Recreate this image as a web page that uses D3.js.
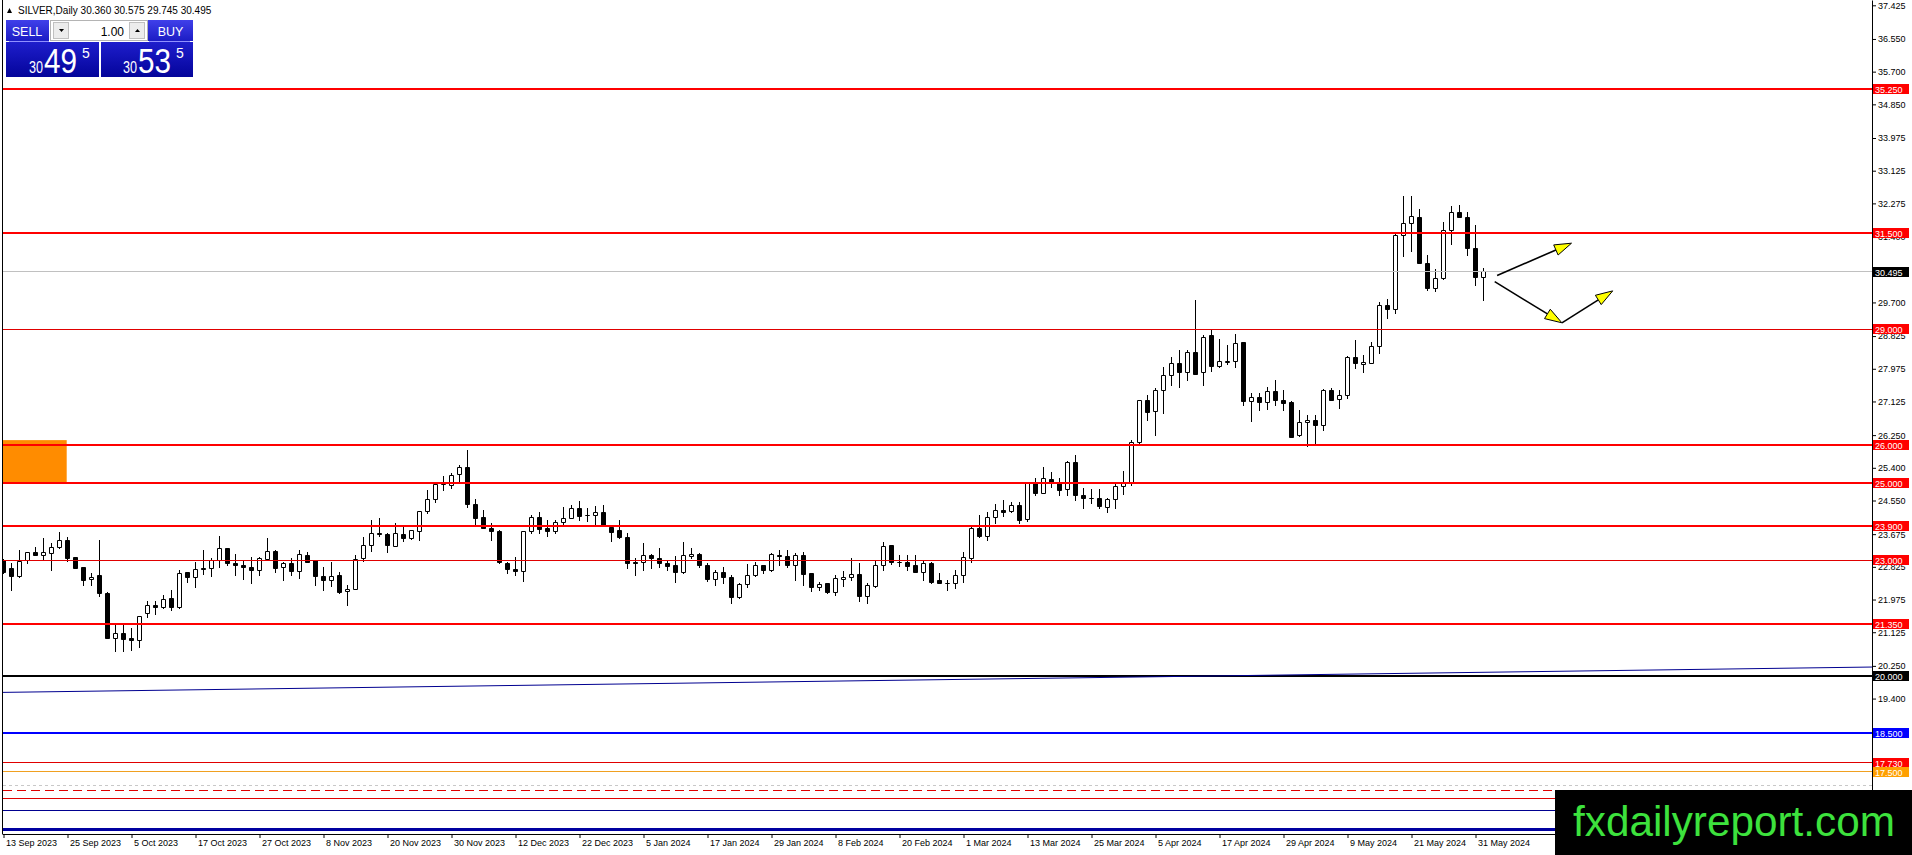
<!DOCTYPE html>
<html>
<head>
<meta charset="utf-8">
<script src="https://cdn.jsdelivr.net/npm/d3@7"></script>
<style>
    html, body { margin: 0; padding: 0; background: #fff; overflow: hidden; }
    svg { display: block; }
    text { font-family: "Liberation Sans", Arial, sans-serif; }
</style>
</head>
<body>
<div id="chart"></div>
<script>
/*
SILVER daily candles with support / resistance levels
 */

//candle data, one entry per daily bar (13 Sep 2023 .. 3 Jun 2024):
var opens = [22.99,22.77,22.57,23.00,23.21,23.12,23.17,23.33,23.50,23.07,22.80,22.50,22.59,22.14,20.96,21.10,20.95,20.91,21.62,21.82,
    21.77,21.99,21.76,22.68,22.55,22.79,22.79,23.00,23.30,22.92,22.86,22.82,22.73,23.01,23.23,22.80,22.90,22.71,23.12,22.98,
    22.58,22.47,22.59,22.18,22.24,23.04,23.38,23.70,23.67,23.36,23.67,23.56,23.75,24.27,24.58,24.96,24.94,25.23,25.41,24.45,
    24.11,23.83,23.75,22.92,22.76,22.71,23.75,24.11,23.81,23.75,23.98,24.09,24.35,24.16,24.16,24.23,23.85,23.76,23.60,22.95,
    22.94,23.12,23.04,22.92,22.85,22.67,23.09,23.15,22.87,22.50,22.68,22.55,22.03,22.37,22.60,22.85,22.72,23.13,23.10,22.86,
    23.12,22.66,22.29,22.38,22.15,22.50,22.55,22.63,22.05,22.31,22.87,23.37,22.93,22.94,22.85,22.67,22.92,22.47,22.39,22.39,
    22.60,23.05,23.83,23.61,24.10,24.28,24.26,24.42,24.06,24.98,24.74,25.10,25.00,24.84,25.53,24.69,24.61,24.61,24.37,24.58,
    24.91,25.00,26.05,27.14,26.86,27.41,27.81,28.11,27.88,28.39,27.88,28.83,28.03,28.14,28.16,28.65,27.12,27.23,27.09,27.39,
    27.16,27.09,26.23,26.58,26.62,26.50,27.40,27.18,27.27,28.27,28.09,28.12,28.56,29.61,29.52,31.45,31.76,31.91,30.72,30.06,
    30.31,31.57,32.04,31.91,31.11,30.360];
var highs = [23.02,22.92,23.24,23.21,23.34,23.55,23.42,23.73,23.58,23.08,22.80,22.66,23.50,22.15,21.31,21.31,21.23,21.54,21.93,21.92,
    22.09,22.20,22.74,22.69,22.94,23.25,23.04,23.62,23.31,23.15,23.00,23.07,23.07,23.55,23.25,22.94,23.05,23.24,23.20,22.99,
    22.80,22.94,22.69,22.33,23.13,23.58,24.02,24.09,23.68,23.96,23.87,23.76,24.27,24.81,24.98,25.17,25.26,25.47,25.84,24.58,
    24.30,23.96,23.78,22.95,23.07,23.75,24.16,24.23,24.02,24.04,24.38,24.43,24.53,24.35,24.39,24.42,23.91,24.04,23.68,23.05,
    23.44,23.15,23.31,22.99,23.09,23.46,23.29,23.18,22.90,22.73,22.80,22.60,22.40,22.89,22.93,22.87,23.18,23.24,23.26,23.18,
    23.19,22.66,22.42,22.40,22.59,22.70,23.03,22.90,22.40,22.99,23.45,23.39,23.13,23.12,23.11,22.96,22.93,22.66,22.46,22.74,
    23.19,23.85,24.17,24.24,24.45,24.55,24.50,24.49,25.01,25.12,25.40,25.27,25.12,25.57,25.71,24.87,24.84,24.84,24.59,24.97,
    25.31,26.11,27.14,27.27,27.45,28.01,28.27,28.46,28.46,29.74,28.85,28.96,28.74,28.59,28.87,28.65,27.34,27.34,27.49,27.68,
    27.41,27.12,26.90,26.77,26.77,27.44,27.47,27.42,28.29,28.70,28.33,28.66,29.70,29.78,31.50,32.45,32.45,32.12,30.93,30.56,
    31.79,32.19,32.23,32.03,31.71,30.575];
var lows = [22.64,22.22,22.54,22.90,23.11,23.00,22.72,23.30,22.97,22.77,22.35,22.35,22.05,20.95,20.62,20.62,20.65,20.72,21.51,21.59,
    21.75,21.69,21.75,22.41,22.30,22.63,22.57,22.80,22.86,22.60,22.50,22.39,22.60,23.00,22.67,22.48,22.59,22.52,22.95,22.35,
    22.22,22.31,22.12,21.82,22.23,22.97,23.22,23.61,23.19,23.35,23.48,23.54,23.51,24.22,24.50,24.82,24.87,25.04,24.36,23.91,
    23.82,23.52,22.90,22.64,22.61,22.44,23.68,23.68,23.61,23.68,23.91,24.07,24.03,24.00,23.91,23.89,23.48,23.55,22.78,22.61,
    22.73,22.77,22.82,22.73,22.41,22.66,23.04,22.81,22.44,22.35,22.38,21.88,21.99,22.28,22.57,22.64,22.70,22.87,22.81,22.47,
    22.33,22.18,22.21,22.12,22.08,22.31,22.47,21.92,21.86,22.29,22.73,22.89,22.83,22.74,22.67,22.48,22.40,22.38,22.21,22.25,
    22.43,22.93,23.58,23.51,23.94,24.13,24.24,23.96,24.00,24.67,24.73,24.88,24.68,24.67,24.56,24.33,24.48,24.35,24.25,24.34,
    24.70,24.95,26.04,26.63,26.23,26.80,27.55,27.49,27.68,27.82,27.54,27.90,28.01,28.09,28.00,27.03,26.60,26.90,26.92,27.02,
    26.89,26.18,26.21,25.95,26.04,26.37,27.14,26.93,27.21,27.97,27.89,28.10,28.36,29.28,29.40,30.89,31.02,30.71,30.01,29.98,
    30.30,31.21,31.91,30.93,30.13,29.745];
var closes = [22.67,22.57,22.97,23.20,23.12,23.19,23.34,23.50,23.04,22.78,22.47,22.56,22.14,20.96,21.10,20.93,20.91,21.54,21.82,21.77,
    21.98,21.77,22.66,22.54,22.76,22.75,23.00,23.30,22.92,22.86,22.80,22.73,23.05,23.23,22.78,22.90,22.70,23.15,22.95,22.57,
    22.47,22.58,22.17,22.24,23.01,23.38,23.70,23.66,23.38,23.69,23.55,23.76,24.27,24.58,24.97,24.99,25.21,25.41,24.45,24.08,
    23.83,23.74,22.93,22.76,22.71,23.75,24.11,23.80,23.74,23.98,24.09,24.35,24.13,24.17,24.23,23.91,23.71,23.58,22.91,22.92,
    23.12,23.04,22.91,22.83,22.67,23.12,23.15,22.85,22.50,22.68,22.55,22.03,22.37,22.60,22.86,22.72,23.15,23.09,22.86,23.12,
    22.63,22.28,22.37,22.15,22.52,22.55,22.63,22.05,22.33,22.87,23.35,22.93,22.95,22.83,22.67,22.90,22.43,22.39,22.40,22.60,
    23.07,23.83,23.61,24.10,24.28,24.24,24.41,24.04,24.98,24.72,25.13,24.98,24.82,25.53,24.68,24.61,24.59,24.39,24.58,24.91,
    25.00,26.05,27.14,26.84,27.42,27.81,28.11,27.88,28.39,27.83,28.80,28.03,28.17,28.17,28.62,27.12,27.23,27.09,27.39,27.15,
    27.08,26.20,26.58,26.64,26.50,27.40,27.16,27.29,28.27,28.12,28.15,28.56,29.61,29.52,31.45,31.76,31.93,30.72,30.06,30.31,
    31.57,32.05,31.91,31.11,30.36,30.495];

//time axis labels and the bar each one belongs to:
var dateLabels = ["13 Sep 2023", "25 Sep 2023", "5 Oct 2023", "17 Oct 2023", "27 Oct 2023", "8 Nov 2023", "20 Nov 2023",
    "30 Nov 2023", "12 Dec 2023", "22 Dec 2023", "5 Jan 2024", "17 Jan 2024", "29 Jan 2024", "8 Feb 2024", "20 Feb 2024",
    "1 Mar 2024", "13 Mar 2024", "25 Mar 2024", "5 Apr 2024", "17 Apr 2024", "29 Apr 2024", "9 May 2024", "21 May 2024",
    "31 May 2024"];
var dateLabelBars = [0, 8, 16, 24, 32, 40, 48, 56, 64, 72, 80, 88, 96, 104, 112, 120, 128, 136, 144, 152, 160, 168, 176, 184];

//price axis labels:
var priceTicks = ["37.425", "36.550", "35.700", "34.850", "33.975", "33.125", "32.275", "31.400", "30.550", "29.700",
    "28.825", "27.975", "27.125", "26.250", "25.400", "24.550", "23.675", "22.825", "21.975", "21.125", "20.250",
    "19.400", "18.550", "17.675", "16.825"];

//horizontal levels:
var redThickLevels = [35.25, 31.5, 26.0, 25.0, 23.9, 21.35];
var redThinLevels = [29.0, 23.0, 17.73, 16.8];
var bidLevel = [30.495];
var blackLevels = [20.0];
var blueLevels = [18.5];
var orangeLevels = [17.5];
var grayDotLevels = [17.15];
var redDashLevels = [17.0];
var navyThinLevels = [16.5];
var navyThickLevels = [16.0];

//levels that carry a price tag on the axis:
var redTags = [35.25, 31.5, 29.0, 26.0, 25.0, 23.9, 23.0, 21.35, 17.73];
var blackTags = [30.495, 20.0];
var blueTags = [18.5];
var orangeTags = [17.5];

//drawn objects (bar index, price):
var trendBars = [-0.44, 233.56];
var trendPrices = [19.56, 20.22];
var zoneBars = [-0.44, 7.9];
var zonePrices = [25.0, 26.12];
var arrowBarsFrom = [186.7, 186.4, 194.8];
var arrowBarsTo = [196.0, 194.8, 201.15];
var arrowPricesFrom = [30.40, 30.24, 29.17];
var arrowPricesTo = [31.24, 29.17, 30.00];

//quote panel:
var symbolName = "SILVER,Daily";
var lotSize = "1.00";
var sellQuote = ["30", "49", "5"];
var buyQuote = ["30", "53", "5"];


var width = 1912;
var height = 855;
var axisX = 1872;
var axisY = 834;

var svg = d3.select("#chart")
    .append("svg")
    .attr("width", width)
    .attr("height", height);

svg.append("rect").attr("width", width).attr("height", height).attr("fill", "#fff");

var defs = svg.append("defs");
defs.append("clipPath").attr("id", "plotClip")
    .append("rect").attr("x", 3).attr("y", 0).attr("width", axisX - 3).attr("height", axisY);

//scales: 8px per bar
var xScale = d3.scaleLinear().domain([-0.4375, 233.5625]).range([0, axisX]);
var yScale = d3.scaleLinear().domain([15.879, 37.563]).range([axisY, 0]);

var plot = svg.append("g").attr("clip-path", "url(#plotClip)");

//orange zone
plot.append("rect")
    .attr("x", xScale(zoneBars[0]))
    .attr("y", yScale(zonePrices[1]))
    .attr("width", xScale(zoneBars[1]) - xScale(zoneBars[0]))
    .attr("height", yScale(zonePrices[0]) - yScale(zonePrices[1]))
    .attr("fill", "#ff8c00");

//candles
var bars = d3.range(opens.length);
function crisp(v) {
    return Math.round(v - 0.5) + 0.5;
}

plot.append("g").selectAll("line")
    .data(bars)
    .join("line")
    .attr("x1", function (i) { return xScale(i); })
    .attr("x2", function (i) { return xScale(i); })
    .attr("y1", function (i) { return crisp(yScale(highs[i])) - 0.5; })
    .attr("y2", function (i) { return crisp(yScale(lows[i])) + 0.5; })
    .attr("stroke", "#000")
    .attr("stroke-width", 1);

plot.append("g").selectAll("path")
    .data(bars)
    .join("path")
    .attr("d", function (i) {
        var cx = xScale(i);
        var t = crisp(yScale(Math.max(opens[i], closes[i])));
        var b = crisp(yScale(Math.min(opens[i], closes[i])));
        return "M" + (cx - 2) + "," + t + "H" + (cx + 2) + "V" + b + "H" + (cx - 2) + "Z";
    })
    .attr("fill", function (i) { return closes[i] >= opens[i] ? "#fff" : "#000"; })
    .attr("stroke", "#000")
    .attr("stroke-width", 1);

//horizontal lines
function drawLevels(values, color, lineWidth, dash) {
    plot.append("g").selectAll("line")
        .data(values)
        .join("line")
        .attr("x1", 3)
        .attr("x2", axisX)
        .attr("y1", function (d) { return lineWidth % 2 ? crisp(yScale(d)) : Math.round(yScale(d)); })
        .attr("y2", function (d) { return lineWidth % 2 ? crisp(yScale(d)) : Math.round(yScale(d)); })
        .attr("stroke", color)
        .attr("stroke-width", lineWidth)
        .attr("stroke-dasharray", dash || null);
}

drawLevels(bidLevel, "#c0c0c0", 1);
drawLevels(grayDotLevels, "#c8c8c8", 1, "3,3");
drawLevels(redThinLevels, "#e00000", 1);
drawLevels(redDashLevels, "#e00000", 1, "9,5");
drawLevels(orangeLevels, "#f0a020", 1);
drawLevels(navyThinLevels, "#000090", 1);
drawLevels(navyThickLevels, "#0000a0", 3);
drawLevels(blueLevels, "#0000ff", 2);
drawLevels(blackLevels, "#000", 2);
drawLevels(redThickLevels, "#ff0000", 2);

//trend line
plot.append("line")
    .attr("x1", xScale(trendBars[0]))
    .attr("y1", yScale(trendPrices[0]))
    .attr("x2", xScale(trendBars[1]))
    .attr("y2", yScale(trendPrices[1]))
    .attr("stroke", "#000090")
    .attr("stroke-width", 1);

//arrows
var arrows = plot.append("g");
arrowBarsFrom.forEach(function (b0, k) {
    var x0 = xScale(b0), y0 = yScale(arrowPricesFrom[k]);
    var x1 = xScale(arrowBarsTo[k]), y1 = yScale(arrowPricesTo[k]);
    var len = Math.hypot(x1 - x0, y1 - y0);
    var ux = (x1 - x0) / len, uy = (y1 - y0) / len;
    var bx = x1 - ux * 17, by = y1 - uy * 17;
    arrows.append("line")
        .attr("x1", x0).attr("y1", y0)
        .attr("x2", bx).attr("y2", by)
        .attr("stroke", "#000")
        .attr("stroke-width", 1.6);
    arrows.append("path")
        .attr("d", "M" + x1 + "," + y1 +
            "L" + (bx - uy * 5.5) + "," + (by + ux * 5.5) +
            "L" + (bx + uy * 5.5) + "," + (by - ux * 5.5) + "Z")
        .attr("fill", "#ffff00")
        .attr("stroke", "#000")
        .attr("stroke-width", 1);
});

//left border
svg.append("line")
    .attr("x1", 2.5).attr("x2", 2.5)
    .attr("y1", 0).attr("y2", axisY)
    .attr("stroke", "#000");

//price axis
var yAxis = d3.axisRight(yScale)
    .tickValues(priceTicks.map(Number))
    .tickFormat(function (d, i) { return priceTicks[i]; })
    .tickSize(4)
    .tickSizeOuter(0)
    .tickPadding(2);

var yAxisG = svg.append("g")
    .attr("transform", "translate(" + axisX + ",0)")
    .call(yAxis);

//time axis
var xAxis = d3.axisBottom(xScale)
    .tickValues(dateLabelBars)
    .tickFormat(function (d, i) { return dateLabels[i]; })
    .tickSize(4)
    .tickSizeOuter(0)
    .tickPadding(2);

var xAxisG = svg.append("g")
    .attr("transform", "translate(0," + axisY + ")")
    .call(xAxis);

xAxisG.select(".domain").attr("d", "M2.5,0.5H" + (axisX + 0.5));
xAxisG.selectAll("text").attr("text-anchor", "start").attr("dx", 2);

[yAxisG, xAxisG].forEach(function (g) {
    g.attr("font-family", null).attr("font-size", null);
    g.selectAll("text").attr("font-size", "9px").attr("fill", "#000");
    g.selectAll("line, path").attr("stroke", "#000");
});

//price tags
function drawTags(values, color) {
    var tags = svg.append("g").selectAll("g")
        .data(values)
        .join("g")
        .attr("transform", function (d) { return "translate(" + (axisX + 1) + "," + Math.round(yScale(d)) + ")"; });
    tags.append("rect")
        .attr("x", 0).attr("y", -5)
        .attr("width", 36).attr("height", 10)
        .attr("fill", color);
    tags.append("text")
        .attr("x", 2).attr("y", 3.5)
        .attr("font-size", "9px")
        .attr("fill", "#fff")
        .text(function (d) { return d.toFixed(3); });
}
drawTags(redTags, "#ff0000");
drawTags(blackTags, "#000");
drawTags(blueTags, "#0000ff");
drawTags(orangeTags, "#ffa000");

//watermark
svg.append("rect")
    .attr("x", 1555).attr("y", 790)
    .attr("width", width - 1555).attr("height", height - 790)
    .attr("fill", "#000");
svg.append("text")
    .attr("x", 1573).attr("y", 836)
    .attr("font-size", "42px")
    .attr("fill", "#3de23d")
    .attr("textLength", 322)
    .attr("lengthAdjust", "spacingAndGlyphs")
    .text("fxdailyreport.com");

//title
svg.append("path").attr("d", "M7,13L9.5,8L12,13Z").attr("fill", "#000");
svg.append("text")
    .attr("x", 18).attr("y", 14)
    .attr("font-size", "10px")
    .attr("fill", "#000")
    .text(symbolName + " " + [opens, highs, lows, closes].map(function (a) {
        return a[a.length - 1].toFixed(3);
    }).join(" "));

//quote panel
var btnGrad = defs.append("linearGradient").attr("id", "btnGrad").attr("x1", 0).attr("y1", 0).attr("x2", 0).attr("y2", 1);
btnGrad.append("stop").attr("offset", 0).attr("stop-color", "#4040ea");
btnGrad.append("stop").attr("offset", 1).attr("stop-color", "#1c1cc4");
var pnlGrad = defs.append("linearGradient").attr("id", "pnlGrad").attr("x1", 0).attr("y1", 0).attr("x2", 0).attr("y2", 1);
pnlGrad.append("stop").attr("offset", 0).attr("stop-color", "#1e1ecc");
pnlGrad.append("stop").attr("offset", 1).attr("stop-color", "#04049a");

var panel = svg.append("g");
panel.append("rect").attr("x", 6).attr("y", 20).attr("width", 43).attr("height", 21).attr("fill", "url(#btnGrad)");
panel.append("rect").attr("x", 148).attr("y", 20).attr("width", 45).attr("height", 21).attr("fill", "url(#btnGrad)");
panel.append("rect").attr("x", 6).attr("y", 42).attr("width", 93).attr("height", 35).attr("fill", "url(#pnlGrad)");
panel.append("rect").attr("x", 101).attr("y", 42).attr("width", 92).attr("height", 35).attr("fill", "url(#pnlGrad)");
panel.append("line").attr("x1", 9).attr("x2", 49).attr("y1", 41.5).attr("y2", 41.5).attr("stroke", "#9090ff");
panel.append("line").attr("x1", 149).attr("x2", 190).attr("y1", 41.5).attr("y2", 41.5).attr("stroke", "#9090ff");

panel.append("rect").attr("x", 50.5).attr("y", 20.5).attr("width", 97).attr("height", 20)
    .attr("fill", "#fff").attr("stroke", "#b4b4b4");
panel.append("rect").attr("x", 53.5).attr("y", 22.5).attr("width", 15).attr("height", 16)
    .attr("fill", "#ececec").attr("stroke", "#c0c0c0");
panel.append("rect").attr("x", 129.5).attr("y", 22.5).attr("width", 15).attr("height", 16)
    .attr("fill", "#ececec").attr("stroke", "#c0c0c0");
panel.append("path").attr("d", "M59,29H64L61.5,32Z").attr("fill", "#000");
panel.append("path").attr("d", "M135,32H140L137.5,29Z").attr("fill", "#000");

panel.append("text").attr("x", 27).attr("y", 36).attr("text-anchor", "middle")
    .attr("font-size", "12.5px").attr("fill", "#fff").text("SELL");
panel.append("text").attr("x", 170.5).attr("y", 36).attr("text-anchor", "middle")
    .attr("font-size", "12.5px").attr("fill", "#fff").text("BUY");
panel.append("text").attr("x", 124).attr("y", 36).attr("text-anchor", "end")
    .attr("font-size", "12px").attr("fill", "#000").text(lotSize);

function drawQuote(q, left) {
    panel.append("text").attr("x", left).attr("y", 73).attr("font-size", "16px").attr("fill", "#fff")
        .attr("textLength", 14).attr("lengthAdjust", "spacingAndGlyphs").text(q[0]);
    panel.append("text").attr("x", left + 15).attr("y", 73).attr("font-size", "35px").attr("fill", "#fff")
        .attr("textLength", 33).attr("lengthAdjust", "spacingAndGlyphs").text(q[1]);
    panel.append("text").attr("x", left + 53).attr("y", 58).attr("font-size", "14px").attr("fill", "#fff")
        .text(q[2]);
}
drawQuote(sellQuote, 29);
drawQuote(buyQuote, 123);
</script>
</body>
</html>
